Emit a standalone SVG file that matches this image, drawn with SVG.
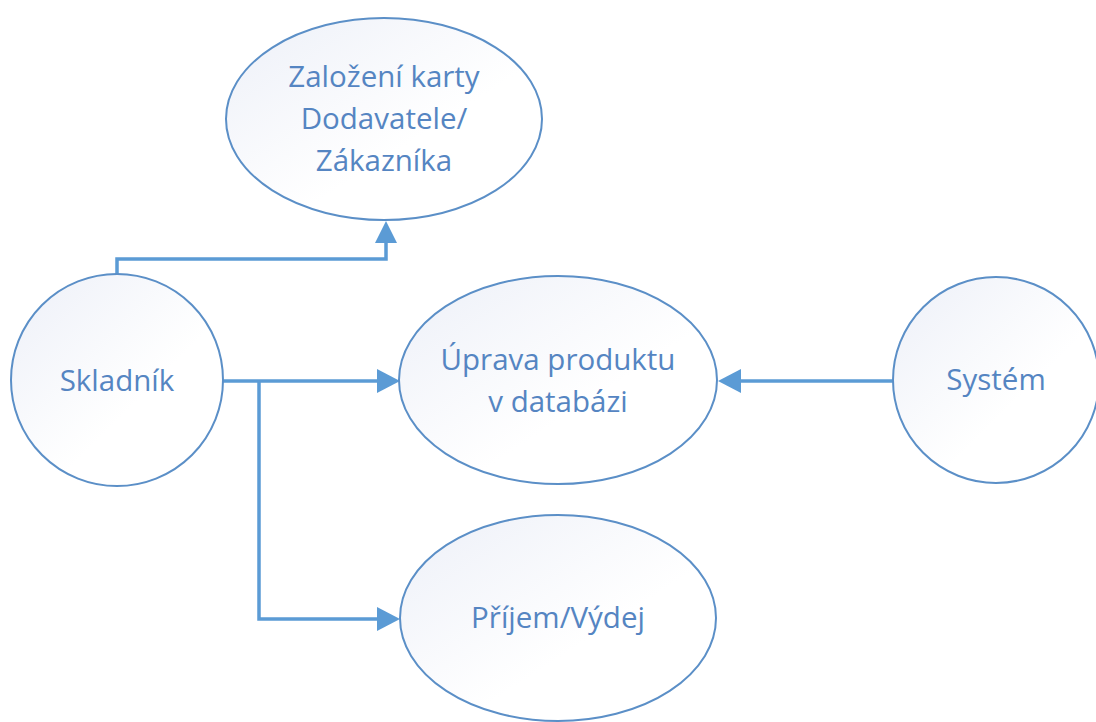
<svg xmlns="http://www.w3.org/2000/svg" width="1096" height="722" viewBox="0 0 1096 722">
<defs>
<linearGradient id="g" x1="0" y1="0" x2="1" y2="1">
<stop offset="0" stop-color="#edf0f8"/>
<stop offset="0.6" stop-color="#ffffff"/>
<stop offset="1" stop-color="#ffffff"/>
</linearGradient>
<style>
.n{fill:url(#g);stroke:#5b8fc7;stroke-width:2}
.t{font-family:"Open Sans","Liberation Sans",sans-serif;font-size:29.5px;fill:#5585c2;text-anchor:middle}
.c{fill:none;stroke:#5b9bd5;stroke-width:3.5}
.h{fill:#5b9bd5}
</style>
</defs>
<rect width="1096" height="722" fill="#ffffff"/>
<g id="connectors">
<path class="c" d="M117,274 V259 H386 V240"/>
<path class="h" d="M375,243 L386,221 L397,243 Z"/>
<path class="c" d="M222,381 H380"/>
<path class="h" d="M377,369 L400,381 L377,393 Z"/>
<path class="c" d="M259,381 V619 H380"/>
<path class="h" d="M377,607 L400,619 L377,631 Z"/>
<path class="c" d="M894,381 H738"/>
<path class="h" d="M741,369 L718,381 L741,393 Z"/>
</g>
<g id="zalozeni">
<ellipse class="n" cx="384" cy="119" rx="158" ry="101"/>
<text class="t" x="384" y="87">Založení karty</text>
<text class="t" x="384" y="129">Dodavatele/</text>
<text class="t" x="384" y="171">Zákazníka</text>
</g>
<g id="skladnik">
<circle class="n" cx="117" cy="380" r="106"/>
<text class="t" x="117" y="391">Skladník</text>
</g>
<g id="uprava">
<ellipse class="n" cx="558" cy="380" rx="159" ry="104"/>
<text class="t" x="558" y="370">Úprava produktu</text>
<text class="t" x="558" y="412">v databázi</text>
</g>
<g id="system">
<circle class="n" cx="996" cy="380" r="103"/>
<text class="t" x="996" y="390">Systém</text>
</g>
<g id="prijem">
<ellipse class="n" cx="558" cy="618" rx="158" ry="103"/>
<text class="t" x="558" y="628">Příjem/Výdej</text>
</g>
</svg>
